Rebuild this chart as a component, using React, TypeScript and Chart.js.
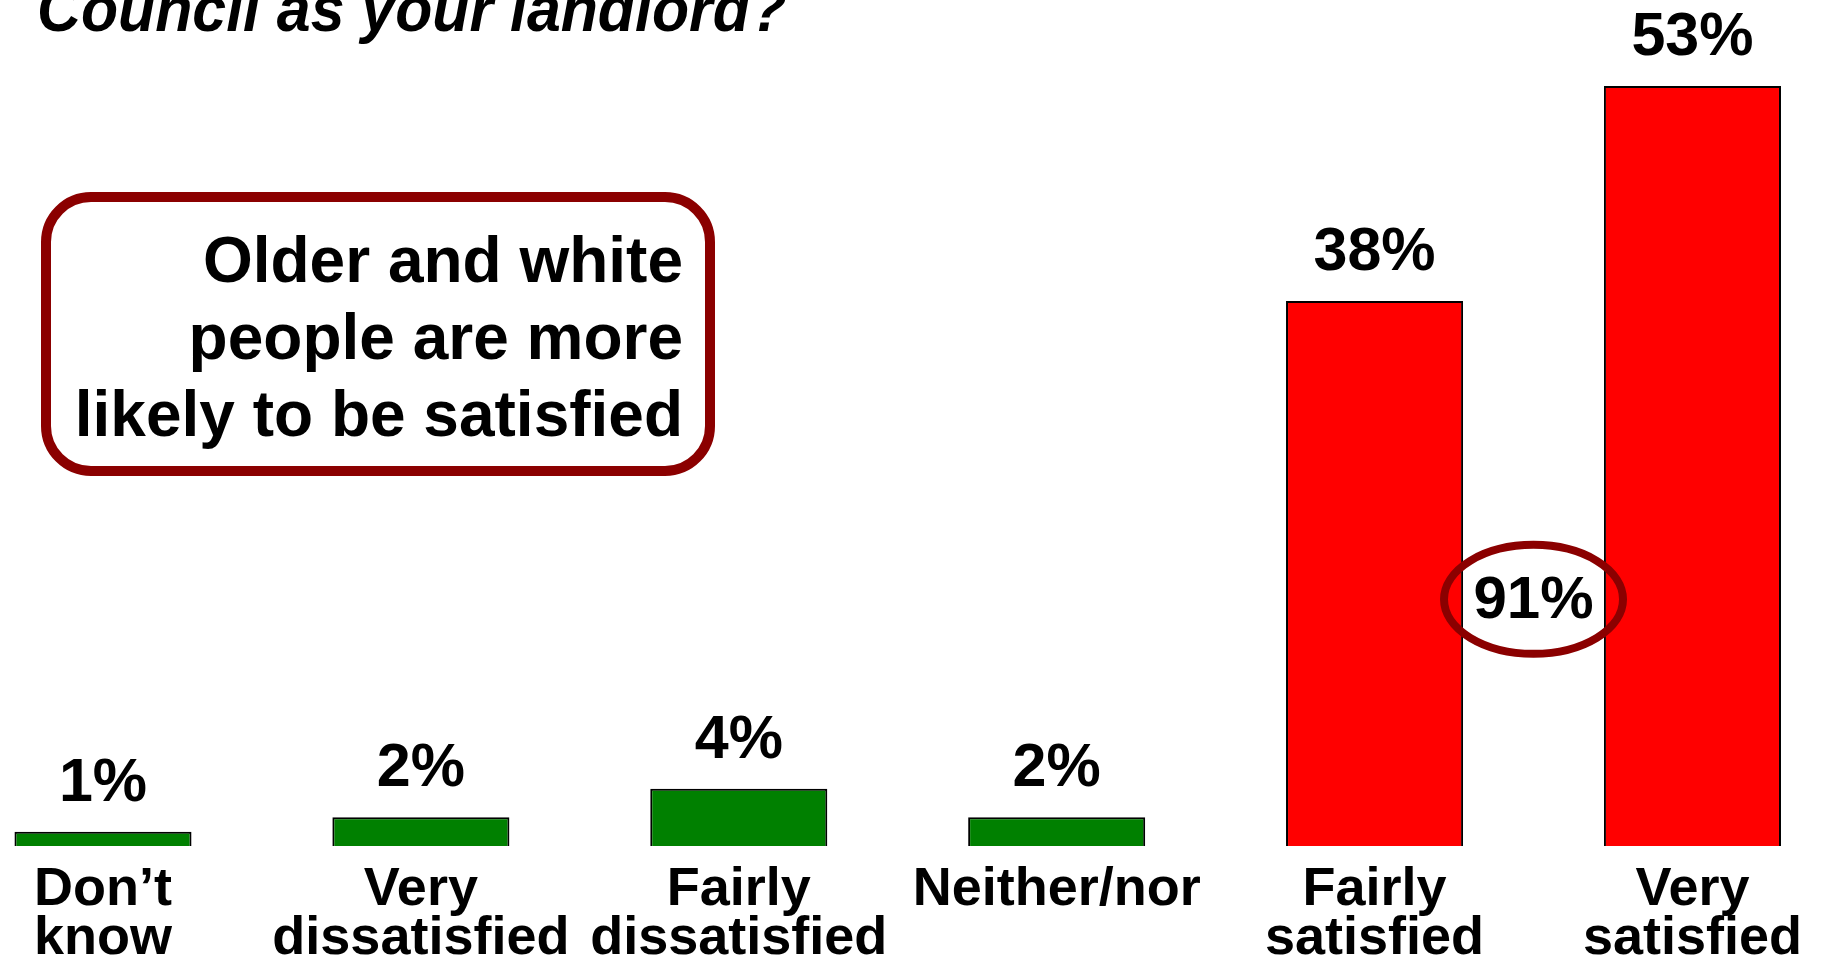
import React, { useEffect, useRef } from "react";
import { Chart, registerables } from "chart.js";

Chart.register(...registerables);

// Survey answers and their shares (percent)
const categories: string[][] = [
  ["Don’t", "know"],
  ["Very", "dissatisfied"],
  ["Fairly", "dissatisfied"],
  ["Neither/nor"],
  ["Fairly", "satisfied"],
  ["Very", "satisfied"],
];
const percentages: number[] = [1, 2, 4, 2, 38, 53];
const barColors: string[] = ["#008000", "#008000", "#008000", "#008000", "#FF0000", "#FF0000"];
const satisfiedIndexes: number[] = [4, 5];

const titleText = "Council as your landlord?";
const calloutLines: string[] = ["Older and white", "people are more", "likely to be satisfied"];

const FONT = "'Liberation Sans', Arial, Helvetica, sans-serif";
const DARK_RED = "#8B0000";

const satisfiedTotal = satisfiedIndexes.reduce((sum, i) => sum + percentages[i], 0);

const overlayPlugin = {
  id: "overlay",
  afterDatasetsDraw(chart: Chart) {
    const ctx = chart.ctx;
    const meta = chart.getDatasetMeta(0);
    const yScale = chart.scales.y;
    ctx.save();

    // value labels above each bar
    ctx.fillStyle = "#000";
    ctx.font = `bold 61px ${FONT}`;
    ctx.textAlign = "center";
    ctx.textBaseline = "alphabetic";
    meta.data.forEach((bar: any, i: number) => {
      ctx.fillText(`${percentages[i]}%`, bar.x, bar.y - 31);
    });

    // combined satisfied share, circled between the two red bars
    const a: any = meta.data[satisfiedIndexes[0]];
    const b: any = meta.data[satisfiedIndexes[1]];
    const cx = (a.x + b.x) / 2;
    const cy = yScale.getPixelForValue(17.2);
    ctx.strokeStyle = DARK_RED;
    ctx.lineWidth = 8;
    ctx.beginPath();
    ctx.ellipse(cx, cy, 89.5, 54.5, 0, 0, Math.PI * 2);
    ctx.stroke();
    ctx.fillStyle = "#000";
    ctx.font = `bold 60px ${FONT}`;
    ctx.textBaseline = "middle";
    ctx.fillText(`${satisfiedTotal}%`, cx, cy + 2);

    // callout box
    ctx.lineWidth = 10;
    ctx.strokeStyle = DARK_RED;
    ctx.fillStyle = "#fff";
    ctx.beginPath();
    (ctx as any).roundRect(46, 197, 664, 274, 45);
    ctx.fill();
    ctx.stroke();
    ctx.fillStyle = "#000";
    ctx.font = `bold 64px ${FONT}`;
    ctx.textAlign = "right";
    ctx.textBaseline = "alphabetic";
    calloutLines.forEach((line, i) => {
      ctx.fillText(line, 683, 282 + i * 77);
    });

    // heading, partly running off the top edge
    ctx.font = `italic bold 64px ${FONT}`;
    ctx.textAlign = "left";
    const w = ctx.measureText(titleText).width;
    ctx.translate(37, 31);
    ctx.scale(750 / w, 1);
    ctx.fillText(titleText, 0, 0);

    ctx.restore();
  },
};

export default function App() {
  const canvasRef = useRef<HTMLCanvasElement | null>(null);

  useEffect(() => {
    if (!canvasRef.current) return;
    const chart = new Chart(canvasRef.current, {
      type: "bar",
      data: {
        labels: categories,
        datasets: [
          {
            data: percentages,
            backgroundColor: barColors,
            borderColor: "#000",
            borderWidth: 2,
            barPercentage: 1,
            categoryPercentage: 0.557,
            clip: false as any,
          },
        ],
      },
      options: {
        animation: false,
        responsive: true,
        maintainAspectRatio: false,
        layout: { padding: { left: 103, right: 129, top: 0, bottom: -24 } },
        plugins: {
          legend: { display: false },
          tooltip: { enabled: false },
          title: { display: false },
        },
        scales: {
          x: {
            offset: false,
            grid: { display: false, drawTicks: false },
            border: { display: false },
            ticks: {
              color: "#000",
              padding: 20,
              maxRotation: 0,
              autoSkip: false,
              font: { family: FONT, size: 54, weight: "bold", lineHeight: "49px" as any },
            },
          },
          y: {
            display: false,
            min: 0,
            max: 59,
          },
        },
      },
      plugins: [overlayPlugin],
    });
    return () => chart.destroy();
  }, []);

  return (
    <div style={{ position: "fixed", left: 0, top: 0, width: 1822, height: 960, background: "#fff" }}>
      <canvas ref={canvasRef} />
    </div>
  );
}
